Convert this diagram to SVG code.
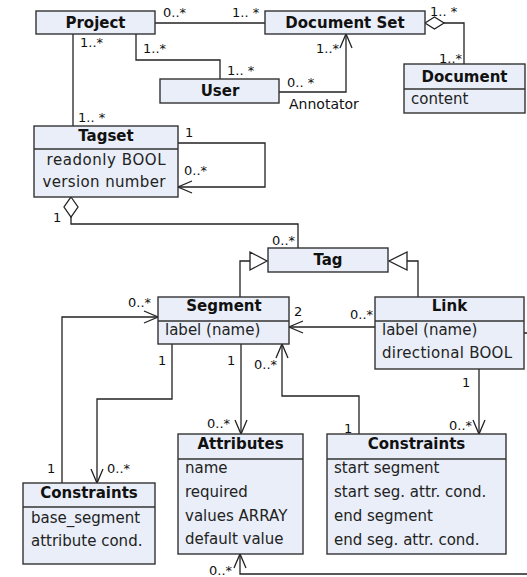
<svg xmlns="http://www.w3.org/2000/svg" width="527" height="577" viewBox="0 0 527 577">
<style>
.box{fill:#E9EEF8;stroke:#333;stroke-width:1.4}
.sep{stroke:#333;stroke-width:1.4}
.t{font-family:"DejaVu Sans",sans-serif;font-weight:bold;font-size:15px;fill:#111;text-anchor:middle}
.a{font-family:"DejaVu Sans",sans-serif;font-size:15px;fill:#222}
.ac{font-family:"DejaVu Sans",sans-serif;font-size:15px;fill:#222;text-anchor:middle}
.m{font-family:"DejaVu Sans",sans-serif;font-size:13px;fill:#111}
.c{fill:none;stroke:#222;stroke-width:1.3}
.ca{fill:none;stroke:#222;stroke-width:1.3;marker-end:url(#arr)}
.h{fill:#fff;stroke:#222;stroke-width:1.3}
</style>
<defs>
<marker id="arr" markerUnits="userSpaceOnUse" markerWidth="16" markerHeight="14" refX="14" refY="6" orient="auto" overflow="visible">
<path d="M0,0 L14,6 L0,12" fill="none" stroke="#222" stroke-width="1.3"/>
</marker>
</defs>
<rect width="527" height="577" fill="#fff"/>
<g id="connectors">
<path class="c" d="M155,23 H265"/>
<path class="c" d="M136,34 V60 H220 V79"/>
<path class="ca" d="M279,92 H346 V34"/>
<path class="c" d="M444,23 H464 V64"/>
<polygon class="h" points="425,23 434.5,17 444,23 434.5,29"/>
<path class="c" d="M73,34 V126"/>
<path class="ca" d="M178,143 H265 V187 H178"/>
<path class="c" d="M71,217 V224 H298 V248"/>
<polygon class="h" points="71,197 78,207 71,217 64,207"/>
<path class="c" d="M240,297 V261 H250"/>
<polygon class="h" points="250,252 267,261 250,270"/>
<path class="c" d="M418,297 V261 H407"/>
<polygon class="h" points="407,252 389,261 407,270"/>
<path class="ca" d="M375,327 H289"/>
<path class="ca" d="M172,344 V399 H97 V483"/>
<path class="ca" d="M62,483 V317 H158"/>
<path class="ca" d="M241,344 V434"/>
<path class="ca" d="M359,434 V396 H282 V344"/>
<path class="ca" d="M479,369 V434"/>
<path class="ca" d="M524,333 H540 V574 H240 V554"/>
<text class="m" x="163" y="17">0..*</text>
<text class="m" x="232" y="17">1.. *</text>
<text class="m" x="80" y="47">1..*</text>
<text class="m" x="143" y="53">1..*</text>
<text class="m" x="227" y="75">1.. *</text>
<text class="m" x="78" y="122">1.. *</text>
<text class="m" x="185" y="137">1</text>
<text class="m" x="184" y="175">0..*</text>
<text class="m" x="430" y="16">1.. *</text>
<text class="m" x="439" y="63">1..*</text>
<text class="m" x="316" y="53">1..*</text>
<text class="m" x="287" y="87">0.. *</text>
<text class="m" x="289" y="109" style="font-size:14px">Annotator</text>
<text class="m" x="53" y="222">1</text>
<text class="m" x="272" y="245">0..*</text>
<text class="m" x="128" y="307">0..*</text>
<text class="m" x="294" y="316">2</text>
<text class="m" x="350" y="319">0..*</text>
<text class="m" x="158" y="365">1</text>
<text class="m" x="227" y="365">1</text>
<text class="m" x="254" y="369">0..*</text>
<text class="m" x="207" y="428">0..*</text>
<text class="m" x="47" y="473">1</text>
<text class="m" x="107" y="473">0..*</text>
<text class="m" x="344" y="433">1</text>
<text class="m" x="462" y="387">1</text>
<text class="m" x="449" y="430">0..*</text>
<text class="m" x="209" y="575">0..*</text>
</g>
<g id="project">
<rect class="box" x="36" y="11" width="119" height="23"/>
<text class="t" x="95.5" y="28">Project</text>
</g>
<g id="document-set">
<rect class="box" x="265" y="11" width="160" height="23"/>
<text class="t" x="345" y="28">Document Set</text>
</g>
<g id="user">
<rect class="box" x="160" y="79" width="119" height="24"/>
<text class="t" x="220" y="96">User</text>
</g>
<g id="document">
<rect class="box" x="404" y="64" width="121" height="49"/>
<line class="sep" x1="404" y1="89" x2="525" y2="89"/>
<text class="t" x="464.5" y="82">Document</text>
<text class="a" x="411" y="104">content</text>
</g>
<g id="tagset">
<rect class="box" x="34" y="126" width="144" height="71"/>
<line class="sep" x1="34" y1="149" x2="178" y2="149"/>
<text class="t" x="106" y="141">Tagset</text>
<text class="ac" x="106" y="165" textLength="119">readonly BOOL</text>
<text class="ac" x="104" y="187" textLength="123">version number</text>
</g>
<g id="tag">
<rect class="box" x="268" y="248" width="120" height="24"/>
<text class="t" x="328" y="265">Tag</text>
</g>
<g id="segment">
<rect class="box" x="158" y="297" width="131" height="47"/>
<line class="sep" x1="158" y1="321" x2="289" y2="321"/>
<text class="t" x="224" y="311">Segment</text>
<text class="a" x="165" y="335">label (name)</text>
</g>
<g id="link">
<rect class="box" x="375" y="297" width="149" height="72"/>
<line class="sep" x1="375" y1="321" x2="524" y2="321"/>
<text class="t" x="449.5" y="311">Link</text>
<text class="a" x="382" y="335">label (name)</text>
<text class="a" x="382" y="358" textLength="130">directional BOOL</text>
</g>
<g id="attributes">
<rect class="box" x="178" y="434" width="125" height="120"/>
<line class="sep" x1="178" y1="459" x2="303" y2="459"/>
<text class="t" x="240.5" y="449">Attributes</text>
<text class="a" x="185" y="473">name</text>
<text class="a" x="185" y="497">required</text>
<text class="a" x="185" y="521">values ARRAY</text>
<text class="a" x="185" y="544">default value</text>
</g>
<g id="link-constraints">
<rect class="box" x="327" y="434" width="179" height="120"/>
<line class="sep" x1="327" y1="459" x2="506" y2="459"/>
<text class="t" x="416.5" y="449">Constraints</text>
<text class="a" x="334" y="473">start segment</text>
<text class="a" x="334" y="497">start seg. attr. cond.</text>
<text class="a" x="334" y="521">end segment</text>
<text class="a" x="334" y="545">end seg. attr. cond.</text>
</g>
<g id="segment-constraints">
<rect class="box" x="23" y="483" width="132" height="81"/>
<line class="sep" x1="23" y1="507" x2="155" y2="507"/>
<text class="t" x="89" y="498">Constraints</text>
<text class="a" x="31" y="523">base_segment</text>
<text class="a" x="31" y="546">attribute cond.</text>
</g>
</svg>
